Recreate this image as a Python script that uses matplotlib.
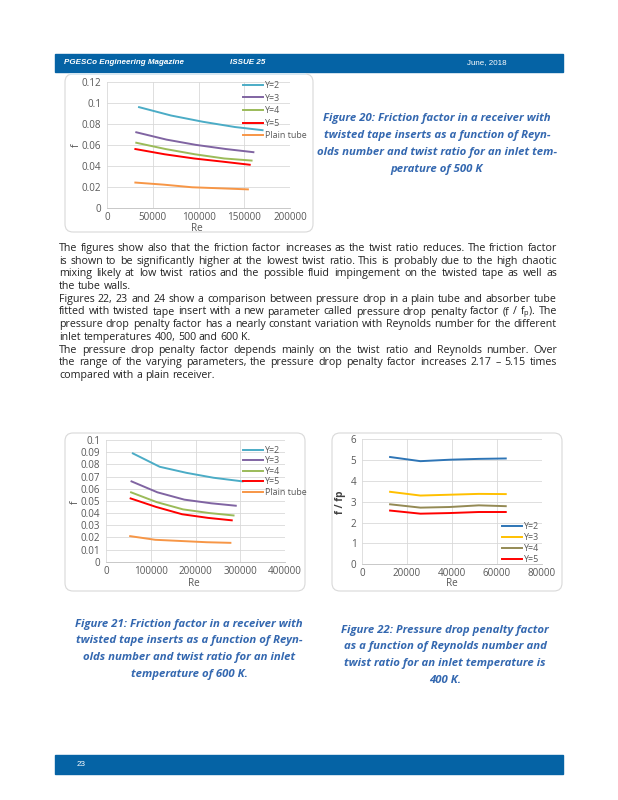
import numpy as np
import matplotlib.pyplot as plt
from matplotlib.patches import Rectangle, FancyBboxPatch
from matplotlib.ticker import FuncFormatter

plt.rcParams['font.family'] = ['Open Sans', 'DejaVu Sans']
plt.rcParams['mathtext.fontset'] = 'custom'
plt.rcParams['mathtext.rm'] = 'Open Sans'

W, H = 618, 800

# -- data --
series = ['Y=2', 'Y=3', 'Y=4', 'Y=5', 'Plain tube']
colors_f = ['#4BACC6', '#8064A2', '#9BBB59', '#FF0000', '#F79646']

# Figure 20, inlet 500 K
re20 = {
    'Y=2': [35000, 70000, 105000, 140000, 170000],
    'Y=3': [32000, 65000, 97000, 130000, 160000],
    'Y=4': [32000, 64000, 96000, 128000, 158000],
    'Y=5': [31000, 63000, 95000, 126000, 156000],
    'Plain tube': [31000, 62000, 93000, 124000, 154000],
}
f20 = {
    'Y=2': [0.096, 0.088, 0.082, 0.077, 0.074],
    'Y=3': [0.072, 0.065, 0.060, 0.056, 0.053],
    'Y=4': [0.062, 0.056, 0.051, 0.047, 0.045],
    'Y=5': [0.056, 0.051, 0.047, 0.044, 0.041],
    'Plain tube': [0.024, 0.022, 0.0195, 0.0185, 0.0175],
}

# Figure 21, inlet 600 K
re21 = {
    'Y=2': [60000, 120000, 180000, 240000, 305000],
    'Y=3': [57000, 115000, 175000, 235000, 290000],
    'Y=4': [56000, 113000, 172000, 230000, 285000],
    'Y=5': [55000, 112000, 170000, 228000, 281000],
    'Plain tube': [54000, 110000, 168000, 225000, 278000],
}
f21 = {
    'Y=2': [0.089, 0.078, 0.073, 0.069, 0.066],
    'Y=3': [0.066, 0.057, 0.051, 0.048, 0.046],
    'Y=4': [0.057, 0.049, 0.043, 0.040, 0.038],
    'Y=5': [0.052, 0.045, 0.039, 0.036, 0.034],
    'Plain tube': [0.021, 0.018, 0.017, 0.016, 0.0155],
}

# Figure 22, penalty factor, inlet 400 K
series22 = ['Y=2', 'Y=3', 'Y=4', 'Y=5']
colors22 = ['#2E75B6', '#FFC000', '#948A54', '#FF0000']
re22 = [12500, 26000, 39000, 52000, 64000]
fp22 = {
    'Y=2': [5.15, 4.95, 5.02, 5.06, 5.08],
    'Y=3': [3.48, 3.30, 3.34, 3.38, 3.37],
    'Y=4': [2.88, 2.72, 2.75, 2.83, 2.79],
    'Y=5': [2.58, 2.43, 2.46, 2.51, 2.51],
}

body = [
    ("The figures show also that the friction factor increases as the twist ratio reduces. The friction factor", True),
    ("is shown to be significantly higher at the lowest twist ratio. This is probably due to the high chaotic", True),
    ("mixing likely at low twist ratios and the possible fluid impingement on the twisted tape as well as", True),
    ("the tube walls.", False),
    ("Figures 22, 23 and 24 show a comparison between pressure drop in a plain tube and absorber tube", True),
    ("fitted with twisted tape insert with a new parameter called pressure drop penalty factor (f / f$_\\mathrm{p}$). The", True),
    ("pressure drop penalty factor has a nearly constant variation with Reynolds number for the different", True),
    ("inlet temperatures 400, 500 and 600 K.", False),
    ("The pressure drop penalty factor depends mainly on the twist ratio and Reynolds number.  Over", True),
    ("the range of the varying parameters, the pressure drop penalty factor increases 2.17 \u2013 5.15 times", True),
    ("compared with a plain receiver.", False),
]
cap20 = ["Figure 20: Friction factor in a receiver with",
         "twisted tape inserts as a function of Reyn-",
         "olds number and twist ratio for an inlet tem-",
         "perature of 500 K"]
cap21 = ["Figure 21: Friction factor in a receiver with",
         "twisted tape inserts as a function of Reyn-",
         "olds number and twist ratio for an inlet",
         "temperature of 600 K."]
cap22 = ["Figure 22: Pressure drop penalty factor",
         "as a function of Reynolds number and",
         "twist ratio for an inlet temperature is",
         "400 K."]

BAR = '#0563A5'
CAP = '#3468B0'
GRAY = '#595959'

fig = plt.figure(figsize=(W / 100, H / 100), dpi=100)
bg = fig.add_axes([0, 0, 1, 1])
bg.set_xlim(0, W)
bg.set_ylim(H, 0)
bg.axis('off')

# header / footer bars
bg.add_patch(Rectangle((55, 54), 508, 18, color=BAR))
bg.plot([70, 305], [73.5, 73.5], color='#D5E8F4', lw=1.2)
bg.add_patch(Rectangle((55, 755), 508, 19, color=BAR))
hf = dict(family='Liberation Sans', color='white', va='center', fontsize=5.8)
bg.text(64, 63, 'PGESCo Engineering Magazine', weight='bold', style='italic', **hf)
bg.text(230, 63, 'ISSUE 25', weight='bold', style='italic', **hf)
bg.text(467, 63, 'June, 2018', **hf)
bg.text(77, 765, '23', **hf)

# chart frames
for x0, y0, x1, y1 in [(65, 74, 313, 232), (65, 433, 305, 591), (332, 433, 562, 591)]:
    bg.add_patch(FancyBboxPatch((x0, y0), x1 - x0, y1 - y0,
                                boxstyle='round,pad=0,rounding_size=8',
                                fc='white', ec='#D9D9D9', lw=0.8))

renderer = fig.canvas.get_renderer()


def put_line(text, x0, x1, y, justify, **kw):
    words = [w for w in text.split(' ') if w]
    objs = [bg.text(0, y, w, va='baseline', **kw) for w in words]
    widths = [o.get_window_extent(renderer).width for o in objs]
    a = bg.text(0, 0, 'a a', **kw)
    b = bg.text(0, 0, 'aa', **kw)
    gap = a.get_window_extent(renderer).width - b.get_window_extent(renderer).width
    a.remove()
    b.remove()
    if justify and len(words) > 1:
        gap = (x1 - x0 - sum(widths)) / (len(words) - 1)
    x = x0
    for o, w in zip(objs, widths):
        o.set_x(x)
        x += w + gap


for i, (line, just) in enumerate(body):
    put_line(line, 59, 557, 251 + i * 12.7, just, fontsize=7.7, color='#222222')


def caption(lines, cx, y0):
    for i, line in enumerate(lines):
        bg.text(cx, y0 + i * 16.7, line, ha='center', va='center', fontsize=8.2,
                weight='bold', style='italic', color=CAP)


caption(cap20, 437, 119)
caption(cap21, 189, 624)
caption(cap22, 445, 630)

fmt = FuncFormatter(lambda v, p: '{:g}'.format(round(v, 4)))


def chart(box, xmax, xstep, ymax, ystep):
    x0, x1, ytop, ybot = box
    ax = fig.add_axes([x0 / W, 1 - ybot / H, (x1 - x0) / W, (ybot - ytop) / H])
    ax.set_xlim(0, xmax)
    ax.set_ylim(0, ymax)
    ax.set_xticks(np.arange(0, xmax + 1, xstep))
    ax.set_yticks(np.arange(0, ymax + ystep / 2, ystep))
    ax.xaxis.set_major_formatter(fmt)
    ax.yaxis.set_major_formatter(fmt)
    ax.grid(True, color='#D9D9D9', lw=0.6)
    ax.set_axisbelow(True)
    for s in ['top', 'right', 'left']:
        ax.spines[s].set_visible(False)
    ax.spines['bottom'].set_color('#BFBFBF')
    ax.spines['bottom'].set_linewidth(0.6)
    ax.tick_params(axis='y', length=0, labelsize=7.1, labelcolor=GRAY, pad=4)
    ax.tick_params(axis='x', length=0, labelsize=7.1, labelcolor=GRAY, pad=3)
    ax.patch.set_alpha(0)
    return ax


leg = dict(loc='upper left', bbox_transform=bg.transData, frameon=False, fontsize=6.4,
           handlelength=2.3, handletextpad=0.2, borderpad=0, borderaxespad=0,
           labelcolor=GRAY)

# Figure 20
ax1 = chart((107, 290, 82, 207.7), 200000, 50000, 0.12, 0.02)
for s, c in zip(series, colors_f):
    ax1.plot(re20[s], f20[s], color=c, lw=1.4, label=s)
ax1.legend(bbox_to_anchor=(243, 81), labelspacing=0.4, **leg)
bg.text(76, 145, 'f', rotation=90, ha='center', va='center', fontsize=7.5, color=GRAY)
bg.text(197, 228.5, 'Re', ha='center', va='center', fontsize=7.2, color=GRAY)

# Figure 21
ax2 = chart((106, 285, 440, 561.7), 400000, 100000, 0.1, 0.01)
for s, c in zip(series, colors_f):
    ax2.plot(re21[s], f21[s], color=c, lw=1.4, label=s)
ax2.legend(bbox_to_anchor=(243, 446), labelspacing=0.16, **leg)
bg.text(75, 502, 'f', rotation=90, ha='center', va='center', fontsize=7.5, color=GRAY)
bg.text(194, 583, 'Re', ha='center', va='center', fontsize=7.2, color=GRAY)

# Figure 22
ax3 = chart((362, 541.7, 439.3, 564.3), 80000, 20000, 6, 1)
for s, c in zip(series22, colors22):
    ax3.plot(re22, fp22[s], color=c, lw=1.4, label=s)
ax3.legend(bbox_to_anchor=(502, 522), labelspacing=0.22, **leg)
bg.text(340, 502, 'f / fp', rotation=90, ha='center', va='center', fontsize=7.2,
        weight='bold', color='#404040')
bg.text(452, 584, 'Re', ha='center', va='center', fontsize=7.2, color=GRAY)

fig.savefig('out.png', dpi=100)
